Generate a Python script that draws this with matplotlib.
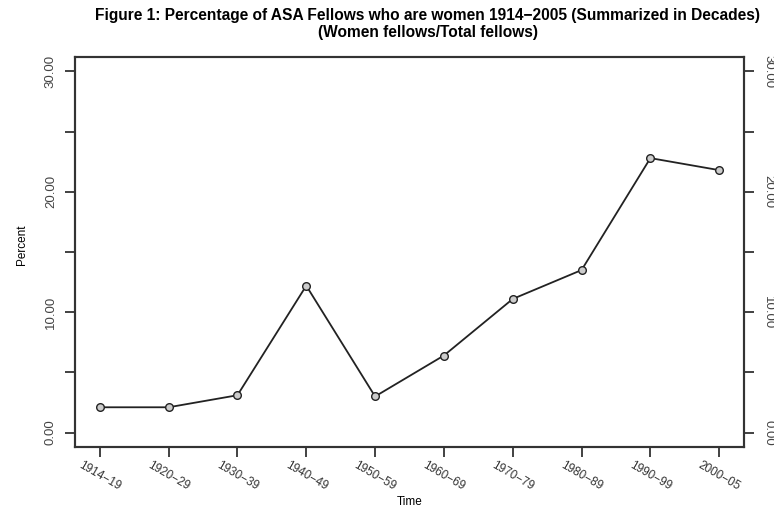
import matplotlib
matplotlib.use("Agg")
import matplotlib.pyplot as plt

plt.rcParams['font.family'] = ['Liberation Sans', 'DejaVu Sans']

periods = ["1914\u221219", "1920\u221229", "1930\u221239", "1940\u221249", "1950\u221259",
           "1960\u221269", "1970\u221279", "1980\u221289", "1990\u221299", "2000\u221205"]
percent = [2.1, 2.1, 3.1, 12.2, 3.0, 6.4, 11.1, 13.5, 22.8, 21.8]
ytick_vals = [0, 5, 10, 15, 20, 25, 30]
ytick_labels = ["0.00", "", "10.00", "", "20.00", "", "30.00"]

W, H = 774, 511
fig = plt.figure(figsize=(W / 100, H / 100), dpi=100)
ax = fig.add_axes([75 / W, (H - 447) / H, (744 - 75) / W, (447 - 57) / H])

x = list(range(1, len(periods) + 1))
ax.plot(x, percent, color='#222222', lw=1.3, marker='o', ms=5.5,
        mfc='#cccccc', mec='#222222', mew=1.0)

ax.set_xlim(0.64, 10.36)
ax.set_ylim(-1.2, 31.2)

ax.set_xticks(x)
ax.set_xticklabels(periods, rotation=-30, ha='center', va='top', fontsize=8.5,
                   color='#333333')
ax.set_yticks(ytick_vals)
ax.set_yticklabels(ytick_labels, rotation=90, va='center', fontsize=9.5, color='#444444')
ax.tick_params(axis='both', direction='out', length=7, width=1.3, color='#333333')
ax.tick_params(axis='x', pad=2)
ax.tick_params(axis='y', pad=6)

ax2 = ax.twinx()
ax2.set_ylim(ax.get_ylim())
ax2.set_yticks(ytick_vals)
ax2.set_yticklabels(ytick_labels, rotation=270, va='center', fontsize=9.5, color='#444444')
ax2.tick_params(axis='y', direction='out', length=7, width=1.3, color='#333333', pad=6)

for a in (ax, ax2):
    for s in a.spines.values():
        s.set_linewidth(1.5)
        s.set_color('#333333')

fig.text(428 / W, 1 - 15 / H,
         "Figure 1: Percentage of ASA Fellows who are women 1914\u22122005 (Summarized in Decades)",
         ha='center', va='center', fontsize=11.2, fontweight='bold')
fig.text(428 / W, 1 - 32 / H, "(Women fellows/Total fellows)",
         ha='center', va='center', fontsize=11.2, fontweight='bold')

fig.text(22 / W, 1 - 245 / H, "Percent", rotation=90, ha='center', va='center', fontsize=8.5)
fig.text(410 / W, 1 - 502 / H, "Time", ha='center', va='center', fontsize=8.5)

fig.savefig("out.png", dpi=100)
